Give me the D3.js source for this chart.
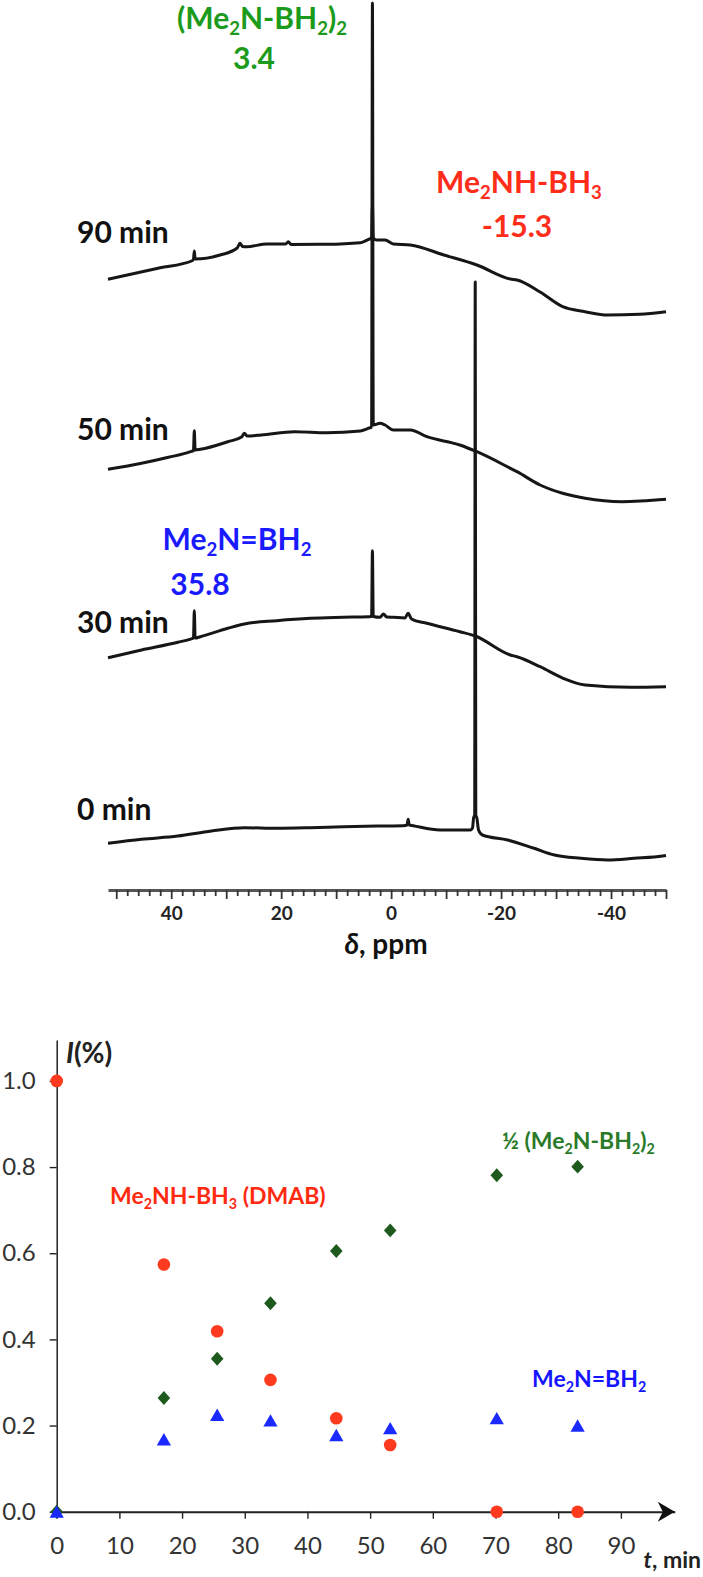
<!DOCTYPE html>
<html>
<head>
<meta charset="utf-8">
<script src="https://cdn.jsdelivr.net/npm/d3@7"></script>
<style>
  body { margin: 0; background: #fff; }
  svg { display: block; }
  text { font-family: Lato, "Open Sans", sans-serif; }
</style>
</head>
<body>
<div id="chart"></div>
<script>
// ---- NMR spectra (ppm, intensity above the trace offset) ----
const traceNames = ["0 min", "30 min", "50 min", "90 min"];
const traceOffsets = [0, 186, 374, 564];

const trace0 = [[51.5,26.7],[45.4,30.7],[38.8,34],[32.7,39],[26.7,42.3],[20.8,41.7],[14.7,42.3],[8.7,43.3],[2.6,44],
  [-2.2,44.3],[-2.9,45],[-3.1,50.7],[-3.3,45],[-4.0,44.3],[-8.9,40],[-14.4,40],[-14.8,42],[-15.0,52],[-15.2,55],
  [-15.3,588],[-15.4,55],[-15.6,52],[-15.9,40],[-16.6,35],[-21.2,30],[-26,21.7],[-29.7,15],[-34.5,11.7],
  [-39.4,10],[-44.2,11.7],[-49.4,14],[-50,14.5]];
const trace30 = [[51.5,26.3],[45.4,34],[38.8,41.7],[36.1,45.7],[35.95,46],[35.8,73.3],[35.65,46],[34.7,47.3],
  [29.7,55.7],[26.7,60],[20.8,63.3],[14.7,65.7],[8.7,66.7],[4.1,67.3],[3.55,67.5],[3.4,133.3],[3.25,67.5],
  [2.0,66.7],[1.4,70],[0.8,67],[-0.4,66.7],[-2.5,66],[-3.1,70.7],[-3.7,65],[-6.5,60.7],[-12.5,52.3],[-15.3,48],
  [-21.7,29],[-22.9,27.3],[-27.1,17.3],[-31.3,5.7],[-35.3,-1],[-43.6,-3.3],[-50,-2.7]];
const trace50 = [[51.5,26.7],[45.4,32.7],[40.5,38.7],[36.5,44.3],[35.95,45.5],[35.8,65.3],[35.65,46],[34.7,46.7],
  [29.7,54.3],[27.2,59],[26.7,62.7],[26.2,60],[23.6,61],[17.6,64.3],[11.7,63.3],[5.6,65],[4.2,67.7],[3.55,69],
  [3.4,493],[3.25,71],[2.0,72.7],[1.1,71],[-0.4,66],[-3.5,66],[-6.5,59.3],[-12.5,51],[-15.6,44.3],[-21.7,27.7],
  [-22.9,24.3],[-27.1,11],[-31.2,2.7],[-35.3,-2.3],[-42,-5.7],[-50,-3.3]];
const trace90 = [[51.5,26.7],[42.4,37.7],[36.1,45.5],[35.95,46.7],[35.8,55],[35.65,47],[31.1,51],[28.0,58],
  [27.5,62.7],[27.0,59.5],[26.3,59.3],[22.6,62],[19.2,62],[18.7,64.3],[18.2,61.5],[11.7,61.7],[5.6,63.3],
  [4.1,66.7],[3.55,68],[3.4,101],[3.25,68],[2.6,66],[1.1,66],[-0.4,62],[-3.5,61],[-9.6,51],[-15.6,41],
  [-21.7,27],[-22.9,26],[-27.1,14],[-31.2,-0.7],[-35.3,-5.7],[-39.4,-9],[-45.2,-8.3],[-50,-5.7]];
const traces = [trace0, trace30, trace50, trace90];

const ppmLabels = [40, 20, 0, -20, -40];

// ---- kinetics: fraction vs time ----
const times = [0, 17.1, 25.6, 34.1, 44.6, 53.2, 70.2, 83.1];
const dmab = [1.0, 0.574, 0.419, 0.306, 0.217, 0.155, 0, 0];
const dimer = [0, 0.264, 0.355, 0.484, 0.605, 0.653, 0.781, 0.801];
const monomer = [0, 0.168, 0.225, 0.212, 0.178, 0.194, 0.217, 0.200];
const timeTicks = [0, 10, 20, 30, 40, 50, 60, 70, 80, 90];
const fracTicks = [0, 0.2, 0.4, 0.6, 0.8, 1.0];

const W = 703, H = 1577;
const svg = d3.select("#chart").append("svg")
    .attr("width", W).attr("height", H)
    .attr("viewBox", `0 0 ${W} ${H}`);

// writes text with subscript parts: parts = [[string, isSub], ...]
function rich(sel, parts, size) {
    const shift = size * 0.2;
    let down = false;
    parts.forEach(([t, sub]) => {
        const ts = sel.append("tspan").text(t);
        if (sub && !down) { ts.attr("dy", shift).attr("font-size", size * 0.62); down = true; }
        else if (sub) { ts.attr("font-size", size * 0.62); }
        else if (down) { ts.attr("dy", -shift); down = false; }
    });
}

// ================= spectra =================
const xPpm = d3.scaleLinear().domain([51.5, -50]).range([108, 666]);
const yInt = d3.scaleLinear().domain([0, 870]).range([870, 0]);

const line = d3.line()
    .curve(d3.curveMonotoneX)
    .x(d => xPpm(d[0]))
    .y(d => yInt(d[1]));

svg.append("g").selectAll("path")
    .data(traces)
    .join("path")
    .attr("d", (d, i) => line(d.map(p => [p[0], p[1] + traceOffsets[i]])))
    .attr("fill", "none")
    .attr("stroke", "#161616")
    .attr("stroke-width", 3)
    .attr("stroke-linejoin", "round");

// time labels on the left of each trace
const labelLift = [50, 51, 56, 63];
svg.append("g").selectAll("text")
    .data(traceNames)
    .join("text")
    .attr("x", 77)
    .attr("y", (d, i) => yInt(traceOffsets[i] + labelLift[i]))
    .attr("font-size", 30)
    .attr("font-weight", "bold")
    .attr("fill", "#111")
    .text(d => d);

// ppm axis
const axisY = 890;
svg.append("g").attr("transform", `translate(0,${axisY})`)
    .call(d3.axisBottom(xPpm)
        .tickValues(d3.range(-50, 51, 2))
        .tickSize(6).tickSizeOuter(0).tickFormat(""))
    .call(g => g.select(".domain").attr("stroke", "#555").attr("stroke-width", 3))
    .call(g => g.selectAll(".tick line")
        .attr("stroke", "#333").attr("stroke-width", 1.8)
        .attr("y2", d => d % 10 === 0 ? 9 : 6));
svg.append("g").attr("transform", `translate(0,${axisY})`)
    .call(d3.axisBottom(xPpm).tickValues(ppmLabels).tickSize(0).tickPadding(17)
        .tickFormat(d => String(d)))
    .call(g => g.select(".domain").remove())
    .call(g => g.selectAll("text")
        .attr("font-family", "'Liberation Sans', Arial, sans-serif")
        .attr("font-size", 19).attr("font-weight", "bold").attr("fill", "#222"));

const ppmTitle = svg.append("text")
    .attr("x", 386).attr("y", 954)
    .attr("text-anchor", "middle")
    .attr("font-size", 28).attr("font-weight", "bold").attr("fill", "#111");
ppmTitle.append("tspan").attr("font-style", "italic").text("δ");
ppmTitle.append("tspan").text(", ppm");

// peak annotations
const g1 = svg.append("text").attr("x", 262).attr("y", 29).attr("text-anchor", "middle")
    .attr("font-size", 30).attr("font-weight", "bold").attr("fill", "#1c9a1c");
rich(g1, [["(Me"], ["2", 1], ["N-BH"], ["2", 1], [")"], ["2", 1]], 30);
svg.append("text").attr("x", 254).attr("y", 69).attr("text-anchor", "middle")
    .attr("font-size", 30).attr("font-weight", "bold").attr("fill", "#1c9a1c").text("3.4");

const r1 = svg.append("text").attr("x", 519).attr("y", 193).attr("text-anchor", "middle")
    .attr("font-size", 30).attr("font-weight", "bold").attr("fill", "#ff2d1a");
rich(r1, [["Me"], ["2", 1], ["NH-BH"], ["3", 1]], 30);
svg.append("text").attr("x", 517).attr("y", 237).attr("text-anchor", "middle")
    .attr("font-size", 30).attr("font-weight", "bold").attr("fill", "#ff2d1a").text("-15.3");

const b1 = svg.append("text").attr("x", 237).attr("y", 550).attr("text-anchor", "middle")
    .attr("font-size", 30).attr("font-weight", "bold").attr("fill", "#1a1aff");
rich(b1, [["Me"], ["2", 1], ["N=BH"], ["2", 1]], 30);
svg.append("text").attr("x", 200).attr("y", 595).attr("text-anchor", "middle")
    .attr("font-size", 30).attr("font-weight", "bold").attr("fill", "#1a1aff").text("35.8");

// ================= kinetics =================
const x = d3.scaleLinear().domain([0, 98.6]).range([56.7, 674.8]);
const y = d3.scaleLinear().domain([0, 1.095]).range([1511.7, 1040]);

svg.append("g").attr("transform", `translate(0,${y(0)})`)
    .call(d3.axisBottom(x).tickValues(timeTicks).tickSize(7).tickSizeOuter(0).tickPadding(18.5))
    .call(g => g.select(".domain").attr("stroke", "#222").attr("stroke-width", 2))
    .call(g => g.selectAll(".tick line").attr("stroke", "#222").attr("stroke-width", 1.4))
    .call(g => g.selectAll("text").attr("font-size", 24).attr("fill", "#333")
        .attr("font-family", "Lato, sans-serif"));

svg.append("g").attr("transform", `translate(${x(0)},0)`)
    .call(d3.axisLeft(y).tickValues(fracTicks).tickSize(7).tickSizeOuter(0).tickPadding(14)
        .tickFormat(d3.format(".1f")))
    .call(g => g.select(".domain").attr("stroke", "#222").attr("stroke-width", 1.5))
    .call(g => g.selectAll(".tick line").attr("stroke", "#222").attr("stroke-width", 1.4))
    .call(g => g.selectAll("text").attr("font-size", 24).attr("fill", "#333")
        .attr("font-family", "Lato, sans-serif"));

// arrow head on the time axis
const tip = x(98.6), ay = y(0);
svg.append("path")
    .attr("d", `M${tip},${ay} L${tip - 17},${ay - 10} L${tip - 12},${ay} L${tip - 17},${ay + 10} Z`)
    .attr("fill", "#111");

const yLab = svg.append("text").attr("x", 66).attr("y", 1063)
    .attr("font-size", 28).attr("font-weight", "bold").attr("fill", "#222");
yLab.append("tspan").attr("font-style", "italic").text("I");
yLab.append("tspan").text("(%)");

const xLab = svg.append("text").attr("x", 701).attr("y", 1568).attr("text-anchor", "end")
    .attr("font-size", 23).attr("font-weight", "bold").attr("fill", "#222");
xLab.append("tspan").attr("font-style", "italic").text("t");
xLab.append("tspan").text(", min");

// markers: DMAB circles, dimer diamonds, monomer triangles
svg.append("g").selectAll("circle")
    .data(times.map((t, i) => [t, dmab[i]]))
    .join("circle")
    .attr("cx", d => x(d[0])).attr("cy", d => y(d[1]))
    .attr("r", 6.3).attr("fill", "#ff3a1f");

const diamond = d3.symbol().type(d3.symbolSquare).size(88)();
svg.append("g").selectAll("path")
    .data(times.map((t, i) => [t, dimer[i]]))
    .join("path")
    .attr("d", diamond)
    .attr("transform", d => `translate(${x(d[0])},${y(d[1])}) scale(0.95,1.05) rotate(45)`)
    .attr("fill", "#1e5a1e");

const tri = d3.symbol().type(d3.symbolTriangle).size(88)();
svg.append("g").selectAll("path")
    .data(times.map((t, i) => [t, monomer[i]]))
    .join("path")
    .attr("d", tri)
    .attr("transform", d => `translate(${x(d[0])},${y(d[1]) + 2})`)
    .attr("fill", "#1a2aff");

// series labels
const l1 = svg.append("text").attr("x", 110).attr("y", 1204)
    .attr("font-size", 23).attr("font-weight", "bold").attr("fill", "#ff2a10");
rich(l1, [["Me"], ["2", 1], ["NH-BH"], ["3", 1], [" (DMAB)"]], 23);

const l2 = svg.append("text").attr("x", 502).attr("y", 1149)
    .attr("font-size", 23).attr("font-weight", "bold").attr("fill", "#2a7a2a");
rich(l2, [["½ (Me"], ["2", 1], ["N-BH"], ["2", 1], [")"], ["2", 1]], 23);

const l3 = svg.append("text").attr("x", 532).attr("y", 1387)
    .attr("font-size", 23).attr("font-weight", "bold").attr("fill", "#1515ff");
rich(l3, [["Me"], ["2", 1], ["N=BH"], ["2", 1]], 23);
</script>
</body>
</html>
